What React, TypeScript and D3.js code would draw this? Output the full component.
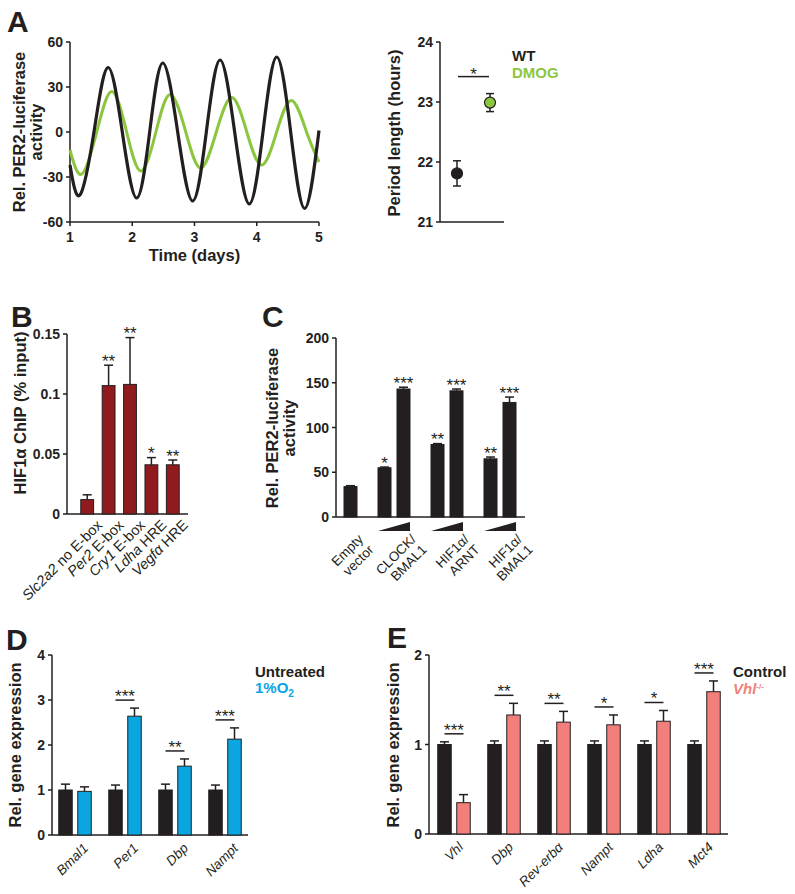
import * as d3 from 'd3';

const FONT = '"Liberation Sans", Arial, Helvetica, sans-serif';
const INK = '#231f20';
const GREEN = '#8cc63f';
const BLUE = '#0aa6e2';
const SALMON = '#f27f7b';
const MAROON = '#8f1b1f';

// Panel A: PER2-luc traces, extrema and zero crossings
const wtDays = [1.0, 1.16, 1.385, 1.61, 1.84, 2.07, 2.28, 2.49, 2.73, 2.97, 3.19, 3.41, 3.645, 3.88, 4.1, 4.32, 4.545, 4.77, 5.0];
const wtLum = [-22, -42, 0, 43, 0, -44, 0, 46, 0, -46, 0, 48, 0, -48, 0, 50, 0, -51, 1];
const dmogDays = [1.0, 1.19, 1.43, 1.67, 1.91, 2.14, 2.38, 2.61, 2.86, 3.1, 3.35, 3.6, 3.84, 4.08, 4.32, 4.56, 4.8, 5.0];
const dmogLum = [-12, -28, 0, 27, 0, -26, 0, 25, 0, -24, 0, 23, 0, -22, 0, 21, 0, -20];
const dayTicks = [1, 2, 3, 4, 5];
const lumTicks = [-60, -30, 0, 30, 60];

// Panel A: period length
const periodGroups = ['WT', 'DMOG'];
const periodMean = [21.81, 22.99];
const periodSem = [0.21, 0.15];
const periodTicks = [21, 22, 23, 24];

// Panel B: HIF1a ChIP
const chipSites = ['Slc2a2', 'Per2', 'Cry1', 'Ldha', 'Vegfα'];
const chipSuffix = [' no E-box', ' E-box', ' E-box', ' HRE', ' HRE'];
const chipMean = [0.012, 0.107, 0.108, 0.041, 0.041];
const chipErr = [0.004, 0.017, 0.039, 0.006, 0.004];
const chipStars = ['', '**', '**', '*', '**'];
const chipTicks = [0, 0.05, 0.1, 0.15];

// Panel C: luciferase reporter
const lucGroups = ['empty', 'clock', 'arnt', 'bmal'];
const lucLabels = [['Empty', 'vector'], ['CLOCK/', 'BMAL1'], ['HIF1α/', 'ARNT'], ['HIF1α/', 'BMAL1']];
const lucBarGroup = ['empty', 'clock', 'clock', 'arnt', 'arnt', 'bmal', 'bmal'];
const lucBarDose = ['high', 'low', 'high', 'low', 'high', 'low', 'high'];
const lucMean = [34, 55, 143, 81, 141, 65, 128];
const lucErr = [1, 0.8, 2, 1, 2, 2, 6];
const lucStars = ['', '*', '***', '**', '***', '**', '***'];
const lucTicks = [0, 50, 100, 150, 200];

// Panel D: hypoxia
const hypGenes = ['Bmal1', 'Per1', 'Dbp', 'Nampt'];
const untreatedMean = [1, 1, 1, 1];
const untreatedErr = [0.13, 0.11, 0.13, 0.11];
const hypoxiaMean = [0.97, 2.64, 1.53, 2.13];
const hypoxiaErr = [0.1, 0.18, 0.16, 0.25];
const hypStars = ['', '***', '**', '***'];
const hypTicks = [0, 1, 2, 3, 4];

// Panel E: Vhl knockout
const vhlGenes = ['Vhl', 'Dbp', 'Rev-erbα', 'Nampt', 'Ldha', 'Mct4'];
const controlMean = [1, 1, 1, 1, 1, 1];
const controlErr = [0.03, 0.04, 0.04, 0.04, 0.04, 0.04];
const vhlMean = [0.35, 1.33, 1.25, 1.22, 1.26, 1.59];
const vhlErr = [0.09, 0.13, 0.12, 0.11, 0.12, 0.12];
const vhlStars = ['***', '**', '**', '*', '*', '***'];
const vhlTicks = [0, 1, 2];

const STAR = 17;
const TICK_FS = 14;

function YAxis({ x, y, ticks }: { x: number; y: d3.ScaleLinear<number, number>; ticks: number[] }) {
  const [r0, r1] = y.range();
  return (
    <g>
      <line x1={x} x2={x} y1={r0} y2={r1} stroke={INK} strokeWidth={1.5} />
      {ticks.map((t) => (
        <g key={t}>
          <line x1={x - 4} x2={x} y1={y(t)} y2={y(t)} stroke={INK} strokeWidth={1.5} />
          <text x={x - 7} y={y(t)} dy="0.36em" textAnchor="end" fontSize={TICK_FS} fontWeight="bold" fill={INK}>
            {String(t)}
          </text>
        </g>
      ))}
    </g>
  );
}

function YTitle({ x, y, lines }: { x: number; y: number; lines: string[] }) {
  return (
    <g>
      {lines.map((l, i) => (
        <text
          key={i}
          transform={`translate(${x + i * 17},${y}) rotate(-90)`}
          textAnchor="middle"
          fontSize={16.5}
          fontWeight="bold"
          fill={INK}
        >
          {l}
        </text>
      ))}
    </g>
  );
}

function Bar({ cx, w, y, v, err, fill }: { cx: number; w: number; y: d3.ScaleLinear<number, number>; v: number; err: number; fill: string }) {
  const top = y(v);
  const et = y(v + err);
  return (
    <g>
      <line x1={cx} x2={cx} y1={top} y2={et} stroke={INK} strokeWidth={1.5} />
      <line x1={cx - 4.5} x2={cx + 4.5} y1={et} y2={et} stroke={INK} strokeWidth={1.5} />
      <rect x={cx - w / 2} y={top} width={w} height={y(0) - top} fill={fill} stroke={INK} strokeWidth={1} />
    </g>
  );
}

function Letter({ x, y, t }: { x: number; y: number; t: string }) {
  return (
    <text x={x} y={y} fontSize={30} fontWeight="bold" fill={INK}>
      {t}
    </text>
  );
}

export default function App() {
  // ---- Panel A left
  const ax = d3.scaleLinear().domain([1, 5]).range([70, 319]);
  const ay = d3.scaleLinear().domain([-60, 60]).range([222, 42]);
  const trace = d3
    .line<[number, number]>()
    .x((d) => ax(d[0]))
    .y((d) => ay(d[1]))
    .curve(d3.curveNatural);
  const wtPath = trace(wtDays.map((d, i) => [d, wtLum[i]]));
  const dmogPath = trace(dmogDays.map((d, i) => [d, dmogLum[i]]));

  // ---- Panel A right
  const py = d3.scaleLinear().domain([21, 24]).range([222, 42]);
  const px = d3.scalePoint<string>().domain(periodGroups).range([457, 490]);
  const periodColor = [INK, GREEN];
  const sigA = py(d3.max(periodMean.map((m, i) => m + periodSem[i]))!) - 17;

  // ---- Panel B
  const by = d3.scaleLinear().domain([0, 0.15]).range([514, 334]);
  const bx = d3.scaleBand<string>().domain(chipSites).range([76.5, 183.5]).paddingInner(0.4).paddingOuter(0.2);

  // ---- Panel C
  const cy = d3.scaleLinear().domain([0, 200]).range([517, 338]);
  const cx = d3.scalePoint<string>().domain(lucGroups).range([341, 500]);
  const dose = d3.scalePoint<string>().domain(['low', 'high']).range([-9.5, 9.5]);

  // ---- Panel D
  const dy = d3.scaleLinear().domain([0, 4]).range([835, 655]);
  const dx = d3.scaleBand<string>().domain(hypGenes).range([50, 250]);
  const pair = d3.scalePoint<string>().domain(['ctl', 'trt']).range([-9.5, 9.5]);

  // ---- Panel E
  const ey = d3.scaleLinear().domain([0, 2]).range([834, 655]);
  const ex = d3.scaleBand<string>().domain(vhlGenes).range([429, 729]);

  return (
    <div style={{ position: 'absolute', left: 0, top: 0 }}>
      <svg width={795} height={894} style={{ fontFamily: FONT, display: 'block', background: '#fff' }}>
        {/* ================= A ================= */}
        <Letter x={7} y={32} t="A" />
        <YAxis x={70} y={ay} ticks={lumTicks} />
        <line x1={70} x2={319} y1={222} y2={222} stroke={INK} strokeWidth={1.5} />
        {dayTicks.map((t) => (
          <g key={t}>
            <line x1={ax(t)} x2={ax(t)} y1={222} y2={226} stroke={INK} strokeWidth={1.5} />
            <text x={ax(t)} y={237} dy="0.36em" textAnchor="middle" fontSize={TICK_FS} fontWeight="bold" fill={INK}>
              {t}
            </text>
          </g>
        ))}
        <text x={194.5} y={261} textAnchor="middle" fontSize={16.5} fontWeight="bold" fill={INK}>
          Time (days)
        </text>
        <YTitle x={25} y={132} lines={['Rel. PER2-luciferase', 'activity']} />
        <path d={dmogPath ?? ''} fill="none" stroke={GREEN} strokeWidth={3} />
        <path d={wtPath ?? ''} fill="none" stroke={INK} strokeWidth={3.2} />

        <YAxis x={440} y={py} ticks={periodTicks} />
        <line x1={440} x2={504} y1={222} y2={222} stroke={INK} strokeWidth={1.5} />
        <YTitle x={400} y={133} lines={['Period length (hours)']} />
        {periodGroups.map((g, i) => {
          const x = px(g)!;
          return (
            <g key={g}>
              <line x1={x} x2={x} y1={py(periodMean[i] - periodSem[i])} y2={py(periodMean[i] + periodSem[i])} stroke={INK} strokeWidth={1.5} />
              <line x1={x - 4} x2={x + 4} y1={py(periodMean[i] + periodSem[i])} y2={py(periodMean[i] + periodSem[i])} stroke={INK} strokeWidth={1.5} />
              <line x1={x - 4} x2={x + 4} y1={py(periodMean[i] - periodSem[i])} y2={py(periodMean[i] - periodSem[i])} stroke={INK} strokeWidth={1.5} />
              <circle cx={x} cy={py(periodMean[i])} r={5.5} fill={periodColor[i]} stroke={INK} strokeWidth={1.2} />
            </g>
          );
        })}
        <line x1={px('WT')! + 1} x2={px('DMOG')! - 1} y1={sigA} y2={sigA} stroke={INK} strokeWidth={1.5} />
        <text x={(px('WT')! + px('DMOG')!) / 2} y={sigA + 3} textAnchor="middle" fontSize={STAR} fill={INK}>
          *
        </text>
        <text x={512} y={61} fontSize={15} fontWeight="bold" fill={INK}>
          WT
        </text>
        <text x={512} y={78} fontSize={15} fontWeight="bold" fill={GREEN}>
          DMOG
        </text>

        {/* ================= B ================= */}
        <Letter x={11} y={327} t="B" />
        <YAxis x={67} y={by} ticks={chipTicks} />
        <line x1={67} x2={188} y1={514} y2={514} stroke={INK} strokeWidth={1.5} />
        <YTitle x={26} y={413} lines={['HIF1α ChIP (% input)']} />
        {chipSites.map((s, i) => {
          const c = bx(s)! + bx.bandwidth() / 2;
          return (
            <g key={s}>
              <Bar cx={c} w={bx.bandwidth()} y={by} v={chipMean[i]} err={chipErr[i]} fill={MAROON} />
              <text x={c} y={by(chipMean[i] + chipErr[i]) + 1.5} textAnchor="middle" fontSize={STAR} fill={INK}>
                {chipStars[i]}
              </text>
              <text transform={`translate(${c + 16},${526}) rotate(-45)`} textAnchor="end" fontSize={14.5} fill={INK}>
                <tspan fontStyle="italic">{s}</tspan>
                <tspan>{chipSuffix[i]}</tspan>
              </text>
            </g>
          );
        })}

        {/* ================= C ================= */}
        <Letter x={262} y={327} t="C" />
        <YAxis x={336} y={cy} ticks={lucTicks} />
        <line x1={336} x2={525} y1={517} y2={517} stroke={INK} strokeWidth={1.5} />
        <YTitle x={278} y={428} lines={['Rel. PER2-luciferase', 'activity']} />
        {lucMean.map((v, i) => {
          const c = cx(lucBarGroup[i])! + dose(lucBarDose[i])!;
          return (
            <g key={i}>
              <Bar cx={c} w={13} y={cy} v={v} err={lucErr[i]} fill={INK} />
              <text x={c} y={cy(v + lucErr[i]) + 1.5} textAnchor="middle" fontSize={STAR} fill={INK}>
                {lucStars[i]}
              </text>
            </g>
          );
        })}
        {lucGroups.map((g, gi) => {
          const c = cx(g)!;
          const hasDose = lucBarGroup.filter((b) => b === g).length > 1;
          const l = c + dose('low')! - 6.5;
          const r = c + dose('high')! + 6.5;
          return (
            <g key={g}>
              {hasDose && <polygon points={`${l},531 ${r},531 ${r},522`} fill={INK} />}
              <text transform={`translate(${c + 23},${540}) rotate(-45)`} textAnchor="end" fontSize={13.5} fill={INK}>
                <tspan x={0}>{lucLabels[gi][0]}</tspan>
                <tspan x={0} dy="1.1em">
                  {lucLabels[gi][1]}
                </tspan>
              </text>
            </g>
          );
        })}

        {/* ================= D ================= */}
        <Letter x={6} y={650} t="D" />
        <YAxis x={52} y={dy} ticks={hypTicks} />
        <line x1={52} x2={248} y1={835} y2={835} stroke={INK} strokeWidth={1.5} />
        <YTitle x={21} y={745} lines={['Rel. gene expression']} />
        {hypGenes.map((g, i) => {
          const c = dx(g)! + dx.bandwidth() / 2;
          const c0 = c + pair('ctl')!;
          const c1 = c + pair('trt')!;
          const sig = dy(Math.max(untreatedMean[i] + untreatedErr[i], hypoxiaMean[i] + hypoxiaErr[i])) - 8;
          return (
            <g key={g}>
              <Bar cx={c0} w={13.5} y={dy} v={untreatedMean[i]} err={untreatedErr[i]} fill={INK} />
              <Bar cx={c1} w={13.5} y={dy} v={hypoxiaMean[i]} err={hypoxiaErr[i]} fill={BLUE} />
              {hypStars[i] && (
                <g>
                  <line x1={c0} x2={c1} y1={sig} y2={sig} stroke={INK} strokeWidth={1.5} />
                  <text x={c} y={sig + 2} textAnchor="middle" fontSize={STAR} fill={INK}>
                    {hypStars[i]}
                  </text>
                </g>
              )}
              <text transform={`translate(${c + 14},${849}) rotate(-45)`} textAnchor="end" fontSize={13.5} fontStyle="italic" fill={INK}>
                {g}
              </text>
            </g>
          );
        })}
        <text x={255} y={677} fontSize={15} fontWeight="bold" fill={INK}>
          Untreated
        </text>
        <text x={255} y={693} fontSize={15} fontWeight="bold" fill={BLUE}>
          1%O
          <tspan fontSize={10} dy={4}>
            2
          </tspan>
        </text>

        {/* ================= E ================= */}
        <Letter x={387} y={648} t="E" />
        <YAxis x={429} y={ey} ticks={vhlTicks} />
        <line x1={429} x2={728} y1={834} y2={834} stroke={INK} strokeWidth={1.5} />
        <YTitle x={399} y={745} lines={['Rel. gene expression']} />
        {vhlGenes.map((g, i) => {
          const c = ex(g)! + ex.bandwidth() / 2;
          const c0 = c + pair('ctl')!;
          const c1 = c + pair('trt')!;
          const sig = ey(Math.max(controlMean[i] + controlErr[i], vhlMean[i] + vhlErr[i])) - 8;
          return (
            <g key={g}>
              <Bar cx={c0} w={13.5} y={ey} v={controlMean[i]} err={controlErr[i]} fill={INK} />
              <Bar cx={c1} w={13.5} y={ey} v={vhlMean[i]} err={vhlErr[i]} fill={SALMON} />
              <line x1={c0} x2={c1} y1={sig} y2={sig} stroke={INK} strokeWidth={1.5} />
              <text x={c} y={sig + 2} textAnchor="middle" fontSize={STAR} fill={INK}>
                {vhlStars[i]}
              </text>
              <text transform={`translate(${c + 10},${848}) rotate(-45)`} textAnchor="end" fontSize={13.5} fontStyle="italic" fill={INK}>
                {g}
              </text>
            </g>
          );
        })}
        <text x={733} y={677} fontSize={15} fontWeight="bold" fill={INK}>
          Control
        </text>
        <text x={733} y={694} fontSize={15} fontWeight="bold" fontStyle="italic" fill={SALMON}>
          Vhl
          <tspan fontSize={8} dy={-5} fontStyle="normal">
            -/-
          </tspan>
        </text>
      </svg>
    </div>
  );
}
